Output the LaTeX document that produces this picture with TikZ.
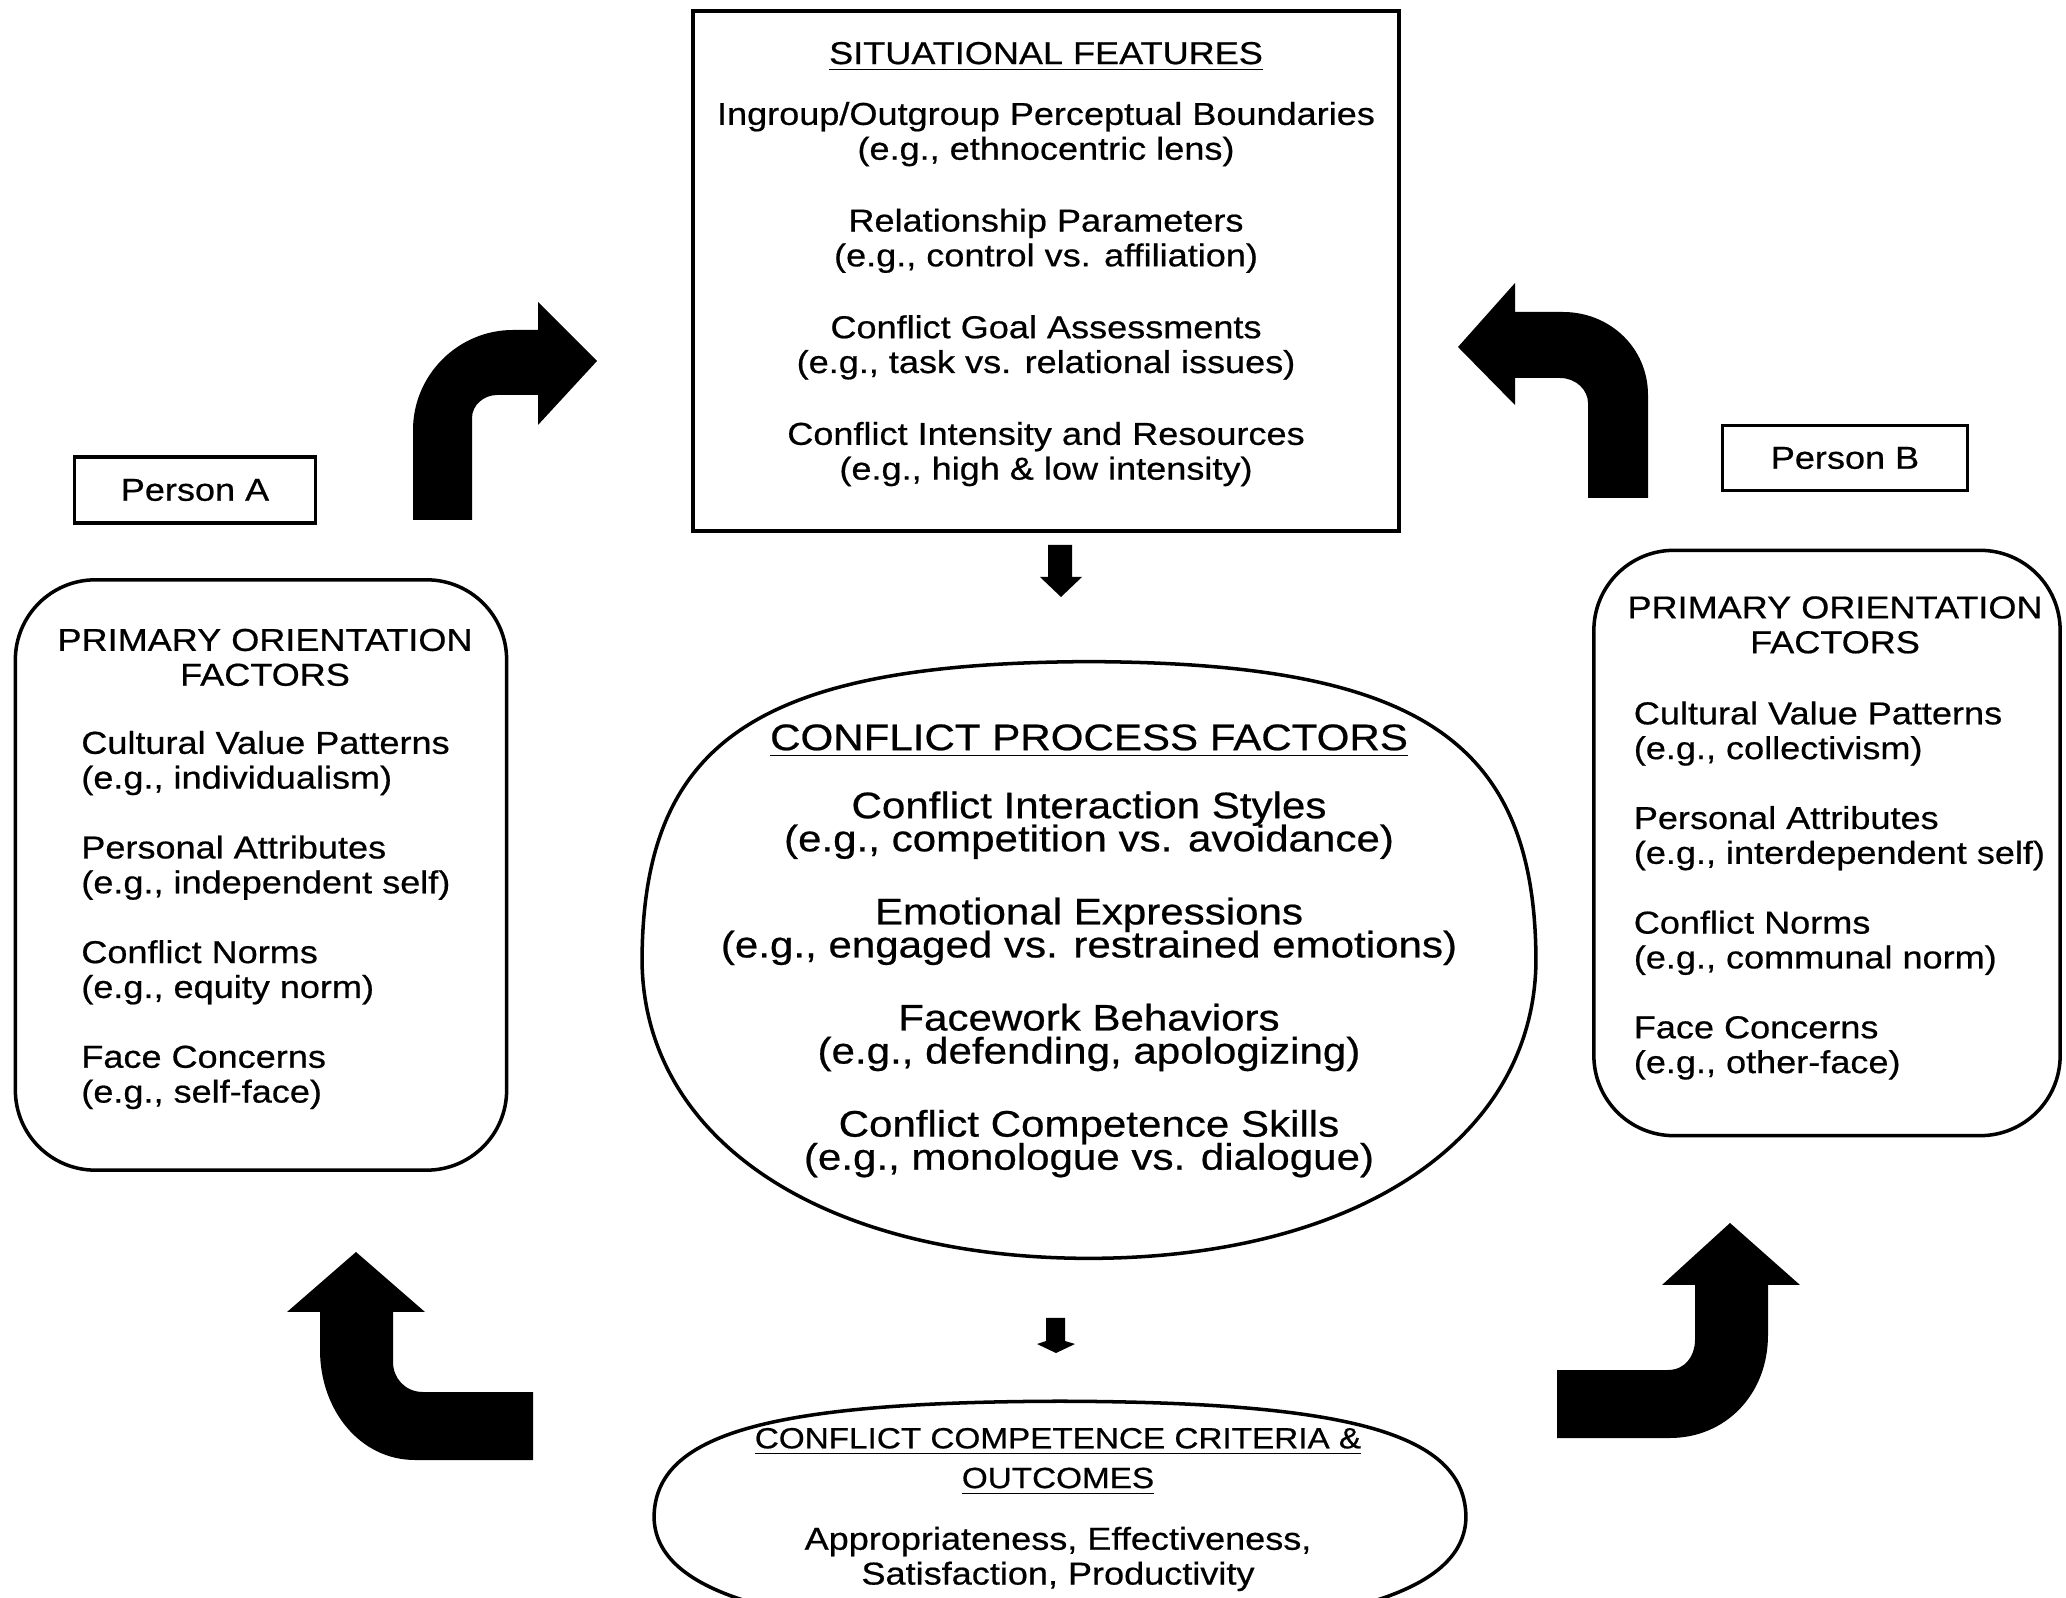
\documentclass[tikz,border=0pt]{standalone}
\usepackage{fontspec}
\setmainfont{Liberation Sans}[FakeStretch=1.14, FakeBold=0.6]
\usetikzlibrary{positioning, shapes.geometric}
\newcommand{\tightlines}{\lineskiplimit=-1cm\lineskip=0pt}

\begin{document}
\begin{tikzpicture}[
        x=0.01cm, y=-0.01cm,
        plainbox/.style={rectangle, draw=black, line width=1.2pt, inner sep=0pt},
        roundbox/.style={rectangle, rounded corners=0.8cm, draw=black, line width=1pt, inner sep=0pt},
        ovalbox/.style={ellipse, draw=none, inner sep=0pt},
        outline/.style={draw=black, line width=1pt},
        smalltext/.style={font=\fontsize{9}{9.9}\selectfont\tightlines, inner sep=0pt},
        bigtext/.style={font=\fontsize{10.5}{9.4}\selectfont\tightlines, inner sep=0pt},
        headtext/.style={font=\fontsize{8.3}{11.3}\selectfont\tightlines, inner sep=0pt},
        blockarrow/.style={fill=black, draw=none}
    ]
        \useasboundingbox (0,0) rectangle (2066,1598);

        % --- BOXES ---
        \node[plainbox, minimum width=7.06cm, minimum height=5.19cm] (situation) at (1046,271) {};
        \node[roundbox, minimum width=4.91cm, minimum height=5.9cm] (orienta) at (261,875) {};
        \node[roundbox, minimum width=4.66cm, minimum height=5.85cm] (orientb) at (1827,843) {};
        \node[plainbox, line width=1pt, minimum width=2.41cm, minimum height=0.66cm, smalltext] (persona) at (195,490) {Person A};
        \node[plainbox, line width=1pt, minimum width=2.45cm, minimum height=0.65cm, smalltext] (personb) at (1845,458) {Person B};
        \node[ovalbox, minimum width=8.92cm, minimum height=5.95cm] (process) at (1089,960) {};
        \node[ovalbox, minimum width=8.1cm, minimum height=2.3cm] (outcome) at (1060,1517) {};

        % fuller at the top than a plain ellipse
        \draw[outline] (process.north) .. controls (1419,663) and (1535,740) .. (process.east)
            .. controls (1535,1139) and (1357,1258) .. (process.south)
            .. controls (821,1258) and (643,1139) .. (process.west)
            .. controls (643,740) and (759,663) .. (process.north) -- cycle;
        \draw[outline] (outcome.north) .. controls (1352,1402) and (1465,1434) .. (outcome.east)
            .. controls (1465,1594) and (1335,1632) .. (outcome.south)
            .. controls (785,1632) and (655,1594) .. (outcome.west)
            .. controls (655,1434) and (768,1402) .. (outcome.north) -- cycle;

        % --- TEXTS ---
        \node[smalltext, align=center, anchor=north, below=0.32cm of situation.north] (situationtext)
            {\underline{SITUATIONAL FEATURES}\\[0.26cm]
             Ingroup/Outgroup Perceptual Boundaries\\ (e.g., ethnocentric lens)\\[0.37cm]
             Relationship Parameters\\ (e.g., control vs. affiliation)\\[0.37cm]
             Conflict Goal Assessments\\ (e.g., task vs. relational issues)\\[0.37cm]
             Conflict Intensity and Resources\\ (e.g., high \& low intensity)};

        \node[smalltext, align=center, below=0.5cm of orienta.north, xshift=0.04cm] (headera) {PRIMARY ORIENTATION\\FACTORS};
        \node[smalltext, align=left, below right=1.52cm and 0.67cm of orienta.north west] (factorsa)
            {Cultural Value Patterns\\ (e.g., individualism)\\[0.35cm]
             Personal Attributes\\ (e.g., independent self)\\[0.35cm]
             Conflict Norms\\ (e.g., equity norm)\\[0.35cm]
             Face Concerns\\ (e.g., self-face)};

        \node[smalltext, align=center, below=0.47cm of orientb.north, xshift=0.08cm] (headerb) {PRIMARY ORIENTATION\\FACTORS};
        \node[smalltext, align=left, below right=1.52cm and 0.41cm of orientb.north west] (factorsb)
            {Cultural Value Patterns\\ (e.g., collectivism)\\[0.35cm]
             Personal Attributes\\ (e.g., interdependent self)\\[0.35cm]
             Conflict Norms\\ (e.g., communal norm)\\[0.35cm]
             Face Concerns\\ (e.g., other-face)};

        \node[bigtext, align=center, below=0.62cm of process.north] (processtext)
            {\underline{CONFLICT PROCESS FACTORS}\\[0.35cm]
             Conflict Interaction Styles\\ (e.g., competition vs. avoidance)\\[0.40cm]
             Emotional Expressions\\ (e.g., engaged vs. restrained emotions)\\[0.40cm]
             Facework Behaviors\\ (e.g., defending, apologizing)\\[0.40cm]
             Conflict Competence Skills\\ (e.g., monologue vs. dialogue)};

        \node[headtext, align=center, below=0.26cm of outcome.north, xshift=-0.02cm] (outhead)
            {\underline{CONFLICT COMPETENCE CRITERIA \&}\\ \underline{OUTCOMES}};
        \node[smalltext, align=center, below=0.3cm of outhead] (outbody)
            {Appropriateness, Effectiveness,\\ Satisfaction, Productivity};

        % --- ARROWS ---
        \fill[blockarrow] (1048,545) -- (1072,545) -- (1072,577) -- (1082,577) -- (1061,597) -- (1040,577) -- (1048,577) -- cycle;
        \fill[blockarrow] (1046,1318) -- (1065,1318) -- (1065,1341) -- (1075,1344) -- (1056,1353) -- (1037,1344) -- (1046,1341) -- cycle;

        \fill[blockarrow] (413,520) -- (413,430) .. controls (413,375) and (458,330) .. (513,330) -- (538,330) -- (538,302)
            -- (597,361) -- (538,425) -- (538,395) -- (497,395) .. controls (484,395) and (472,405) .. (472,418) -- (472,520) -- cycle;
        \fill[blockarrow] (1648,498) -- (1648,395) .. controls (1648,348) and (1610,312) .. (1563,312) -- (1515,312) -- (1515,283)
            -- (1458,347) -- (1515,405) -- (1515,378) -- (1560,378) .. controls (1576,378) and (1588,390) .. (1588,403) -- (1588,498) -- cycle;
        \fill[blockarrow] (533,1460) -- (415,1460) .. controls (360,1460) and (320,1410) .. (320,1350) -- (320,1312) -- (287,1312)
            -- (356,1252) -- (425,1312) -- (393,1312) -- (393,1362) .. controls (393,1378) and (405,1392) .. (423,1392) -- (533,1392) -- cycle;
        \fill[blockarrow] (1557,1438) -- (1670,1438) .. controls (1725,1438) and (1768,1395) .. (1768,1335) -- (1768,1285) -- (1800,1285)
            -- (1730,1223) -- (1662,1285) -- (1695,1285) -- (1695,1340) .. controls (1695,1356) and (1685,1370) .. (1668,1370) -- (1557,1370) -- cycle;

    \end{tikzpicture}
\end{document}
